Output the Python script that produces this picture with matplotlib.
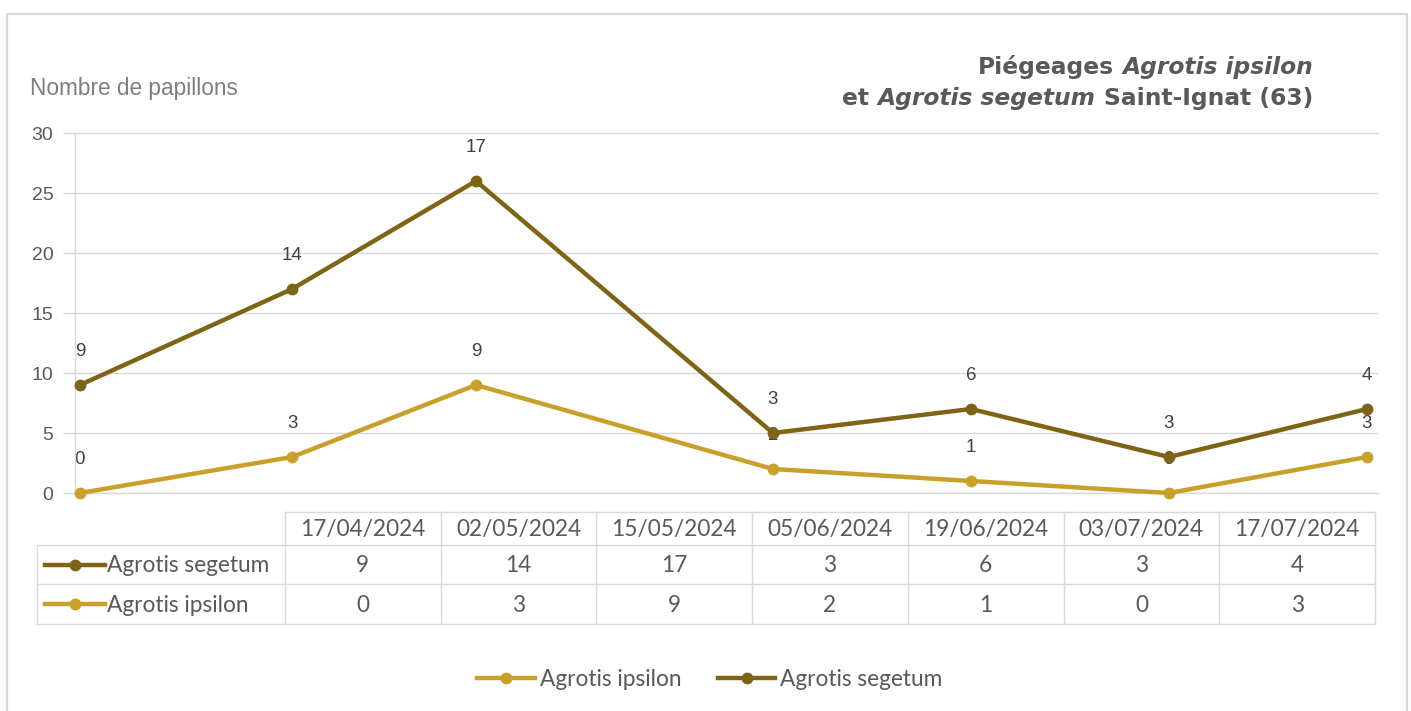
import numpy as np
import matplotlib
matplotlib.use("Agg")
import matplotlib.pyplot as plt
import matplotlib.dates as mdates
from matplotlib.lines import Line2D
from matplotlib.patches import Rectangle
from datetime import datetime

# ---- data -------------------------------------------------------------
dates = ["17/04/2024", "02/05/2024", "15/05/2024", "05/06/2024",
         "19/06/2024", "03/07/2024", "17/07/2024"]
segetum = [9, 14, 17, 3, 6, 3, 4]
ipsilon = [0, 3, 9, 2, 1, 0, 3]
yticks = [0, 5, 10, 15, 20, 25, 30]
name_seg = "Agrotis segetum"
name_ips = "Agrotis ipsilon"
ylabel = "Nombre de papillons"

# ---- style -------------------------------------------------------------
C_SEG = "#7f6415"
C_IPS = "#c9a02a"
GRID = "#d9d9d9"
TXT = "#595959"
SANS = "Liberation Sans"
TABLE_FONT = "Lato"
TFS = 16.3

W, H = 1411, 711
fig = plt.figure(figsize=(W / 100, H / 100), dpi=100)
fig.patch.set_facecolor("white")


def fx(x):
    return x / W


def fy(y):
    return 1 - y / H


# outer frame
fig.add_artist(Rectangle((fx(7), fy(716)), fx(1407) - fx(7), fy(14) - fy(716),
                         transform=fig.transFigure, fill=False,
                         edgecolor=GRID, lw=1.6, clip_on=False))

# ---- main plot ----------------------------------------------------------
ax = fig.add_axes([fx(75), fy(493), (1378 - 75) / W, (493 - 133) / H])
xd = mdates.date2num([datetime.strptime(d, "%d/%m/%Y") for d in dates])
ips = np.array(ipsilon)
stacked = ips + np.array(segetum)

l_ips, = ax.plot(xd, ips, color=C_IPS, lw=3.2, marker="o", ms=7.5,
                 label=name_ips, zorder=3, clip_on=False)
l_seg, = ax.plot(xd, stacked, color=C_SEG, lw=3.2, marker="o", ms=7.5,
                 label=name_seg, zorder=4, clip_on=False)

ax.set_xlim(xd[0] - 0.35, xd[-1] + 0.78)
ax.set_ylim(0, 30)
ax.set_yticks(yticks)
ax.set_xticks([])
ax.grid(axis="y", color=GRID, lw=1)
ax.set_axisbelow(True)
ax.spines["right"].set_visible(False)
for s in ("left", "top", "bottom"):
    ax.spines[s].set_color(GRID)
    ax.spines[s].set_linewidth(1)
ax.tick_params(axis="y", length=8.6, color=GRID, width=1,
               labelsize=14, labelcolor=TXT, pad=7)
for t in ax.get_yticklabels():
    t.set_family(SANS)

# value labels
for xi, yi, v in zip(xd, ips, ipsilon):
    ax.annotate(str(v), (xi, yi), xytext=(0, 24), textcoords="offset points",
                ha="center", va="center", fontsize=13.5, color="#404040",
                family=SANS, zorder=2, annotation_clip=False)
for xi, yi, v in zip(xd, stacked, segetum):
    ax.annotate(str(v), (xi, yi), xytext=(0, 24), textcoords="offset points",
                ha="center", va="center", fontsize=13.5, color="#404040",
                family=SANS, zorder=5, annotation_clip=False)

# axis title
fig.text(fx(30), fy(95), ylabel, fontsize=16.3, color="#7f7f7f",
         family=SANS, ha="left", va="baseline")

# ---- chart title (mixed bold / bold italic), right aligned -----------------
renderer = fig.canvas.get_renderer()
TITLE_FS = 16.8
title_lines = [
    (fy(74), [("Piégeages", "normal"), ("Agrotis ipsilon", "italic")]),
    (fy(105), [("et", "normal"), ("Agrotis segetum", "italic"),
               ("Saint-Ignat (63)", "normal")]),
]
p1 = fig.text(0, 0, "a a", fontsize=TITLE_FS, fontweight="bold",
              family="DejaVu Sans")
p2 = fig.text(0, 0, "aa", fontsize=TITLE_FS, fontweight="bold",
              family="DejaVu Sans")
space_w = (p1.get_window_extent(renderer).width
           - p2.get_window_extent(renderer).width)
p1.remove()
p2.remove()

for ybase, pieces in title_lines:
    xr_px = 1313.0
    for txt, style in reversed(pieces):
        t = fig.text(xr_px / W, ybase, txt, fontsize=TITLE_FS,
                     fontweight="bold", fontstyle=style, color=TXT,
                     family="DejaVu Sans", ha="right", va="baseline")
        bb = t.get_window_extent(renderer)
        xr_px = bb.x0 - space_w

# ---- data table ----------------------------------------------------------
n = len(dates)
tx0, tx1 = 285, 1375
cw = (tx1 - tx0) / n
row_y = [512, 545, 584, 624]
lab_x0 = 37


def hline(x0, x1, y):
    fig.add_artist(Line2D([fx(x0), fx(x1)], [fy(y), fy(y)],
                          transform=fig.transFigure, color=GRID, lw=1))


def vline(x, y0, y1):
    fig.add_artist(Line2D([fx(x), fx(x)], [fy(y0), fy(y1)],
                          transform=fig.transFigure, color=GRID, lw=1))


hline(tx0, tx1, row_y[0])
for y in row_y[1:]:
    hline(lab_x0, tx1, y)
vline(lab_x0, row_y[1], row_y[3])
for i in range(n + 1):
    vline(tx0 + i * cw, row_y[0], row_y[3])

for i, d in enumerate(dates):
    cx = tx0 + (i + 0.5) * cw
    fig.text(fx(cx), fy((row_y[0] + row_y[1]) / 2 + 1), d, ha="center",
             va="center", fontsize=TFS, color=TXT, family=TABLE_FONT)
    fig.text(fx(cx), fy((row_y[1] + row_y[2]) / 2 + 1), str(segetum[i]),
             ha="center", va="center", fontsize=TFS, color=TXT,
             family=TABLE_FONT)
    fig.text(fx(cx), fy((row_y[2] + row_y[3]) / 2 + 1), str(ipsilon[i]),
             ha="center", va="center", fontsize=TFS, color=TXT,
             family=TABLE_FONT)

for (r0, r1), name, col in (((row_y[1], row_y[2]), name_seg, C_SEG),
                            ((row_y[2], row_y[3]), name_ips, C_IPS)):
    yc = (r0 + r1) / 2
    fig.add_artist(Line2D([fx(45), fx(105)], [fy(yc), fy(yc)],
                          transform=fig.transFigure, color=col, lw=3.2))
    fig.add_artist(Line2D([fx(75)], [fy(yc)], transform=fig.transFigure,
                          color=col, marker="o", ms=7.5, lw=0))
    fig.text(fx(107), fy(yc + 1), name, ha="left", va="center",
             fontsize=TFS, color=TXT, family=TABLE_FONT)

# ---- legend --------------------------------------------------------------
fig.legend(handles=[l_ips, l_seg], loc="center",
           bbox_to_anchor=(fx(710), fy(679)), ncol=2, frameon=False,
           prop={"family": TABLE_FONT, "size": TFS}, labelcolor=TXT,
           handlelength=2.55, handletextpad=0.22, columnspacing=1.6)

fig.savefig("out.png", dpi=100, facecolor="white")
